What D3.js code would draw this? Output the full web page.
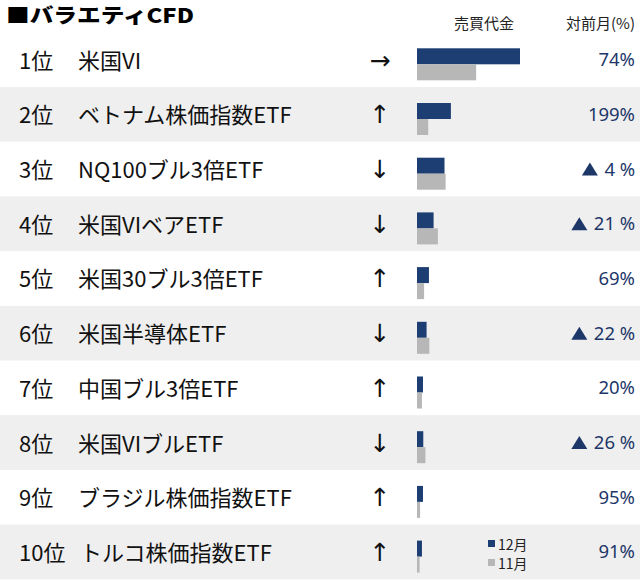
<!DOCTYPE html>
<html>
<head>
<meta charset="utf-8">
<script src="https://cdn.jsdelivr.net/npm/d3@7"></script>
<style>
  html, body { margin: 0; padding: 0; background: #fff; }
  svg { display: block; }
</style>
</head>
<body>
<svg id="chart" width="640" height="580"></svg>
<script>
const title = "■バラエティCFD";
const colHeaders = ["売買代金", "対前月(%)"];
const ranks = ["1位","2位","3位","4位","5位","6位","7位","8位","9位","10位"];
const names = ["米国VI","ベトナム株価指数ETF","NQ100ブル3倍ETF","米国VIベアETF","米国30ブル3倍ETF","米国半導体ETF","中国ブル3倍ETF","米国VIブルETF","ブラジル株価指数ETF","トルコ株価指数ETF"];
const trends = ["→","↑","↓","↓","↑","↓","↑","↓","↑","↑"];
// 売買代金 (relative index, 12月 top = 100)
const dec = [100, 32.9, 26.7, 16.1, 11.6, 9.3, 5.8, 6.1, 5.8, 4.8];
const nov = [57.4, 10.9, 27.8, 20.3, 6.9, 12.0, 4.8, 8.2, 3.0, 2.5];
// 対前月 (%) ; negative shown with ▲
const changes = [74, 199, -4, -21, 69, -22, 20, -26, 95, 91];
const legendLabels = ["12月", "11月"];

const BLUE = "#1d3e72", GRAY = "#b7b7b7", BAND = "#efefef", NAVY = "#1d3769";
const JP = "'Noto Sans CJK JP', 'Noto Sans', sans-serif";

const svg = d3.select("#chart");

const y = d3.scaleBand().domain(d3.range(ranks.length)).range([32.3, 579.3]).padding(0);
const x = d3.scaleLinear().domain([0, 100]).range([417, 520]);

// row bands
svg.selectAll("rect.band").data(d3.range(ranks.length).filter(i => i % 2 === 1))
  .join("rect").attr("class", "band")
  .attr("x", 0).attr("width", 640)
  .attr("y", i => y(i)).attr("height", y.bandwidth())
  .attr("fill", BAND);

// title (horizontally widened to match the reference's wide bold face)
const titleText = svg.append("text").attr("x", 0).attr("y", 0)
  .attr("font-family", JP).attr("font-weight", 900).attr("font-size", 20)
  .attr("fill", "#000").text(title);
const tw = titleText.node().getComputedTextLength();
titleText.attr("transform", `translate(6,23) scale(${188 / tw},1)`);

// column headers
svg.append("text").attr("x", 484).attr("y", 28.5).attr("text-anchor", "middle")
  .attr("font-family", JP).attr("font-size", 15).attr("fill", "#222").text(colHeaders[0]);
svg.append("text").attr("x", 635).attr("y", 28.5).attr("text-anchor", "end")
  .attr("font-family", JP).attr("font-size", 15).attr("fill", "#222").text(colHeaders[1]);

const rows = svg.selectAll("g.row").data(d3.range(ranks.length)).join("g").attr("class", "row");
const cy = i => y(i) + y.bandwidth() / 2;

rows.append("text").attr("x", 19).attr("y", i => cy(i) + 9)
  .attr("font-family", JP).attr("font-size", 22).attr("fill", "#111").text(i => ranks[i]);
rows.append("text").attr("x", i => i === 9 ? 80 : 78).attr("y", i => cy(i) + 9)
  .attr("font-family", JP).attr("font-size", 22).attr("fill", "#111").text(i => names[i]);
rows.append("text").attr("x", 380).attr("y", i => cy(i) + 9).attr("text-anchor", "middle")
  .attr("font-family", "'DejaVu Sans', sans-serif").attr("font-size", 25).attr("fill", "#111").text(i => trends[i]);

// bars
rows.append("rect").attr("x", x(0)).attr("y", i => y(i) + 16)
  .attr("width", i => x(dec[i]) - x(0)).attr("height", 16).attr("fill", BLUE);
rows.append("rect").attr("x", x(0)).attr("y", i => y(i) + 32)
  .attr("width", i => x(nov[i]) - x(0)).attr("height", 16).attr("fill", GRAY);

// change %
const PF = "'Noto Sans', sans-serif";
rows.each(function(i) {
  const g = d3.select(this);
  const base = cy(i) + 6.5;
  const v = changes[i];
  if (v >= 0) {
    g.append("text").attr("x", 635).attr("y", base).attr("text-anchor", "end")
      .attr("font-family", PF).attr("font-size", 18.5).attr("fill", NAVY).text(v + "%");
  } else {
    g.append("text").attr("x", 635).attr("y", base).attr("text-anchor", "end")
      .attr("font-family", PF).attr("font-size", 18.5).attr("fill", NAVY).text("%");
    const num = g.append("text").attr("x", 615).attr("y", base).attr("text-anchor", "end")
      .attr("font-family", PF).attr("font-size", 18.5).attr("fill", NAVY).text(Math.abs(v));
    const w = num.node().getComputedTextLength();
    const right = 615 - w - 6.5;
    const c = cy(i);
    g.append("path")
      .attr("d", `M${right - 16},${c + 6.5} L${right},${c + 6.5} L${right - 8},${c - 6.5} Z`)
      .attr("fill", NAVY);
  }
});

// legend
const legColors = [BLUE, GRAY];
const legY = [540, 559];
legendLabels.forEach((lab, k) => {
  svg.append("rect").attr("x", 488).attr("y", legY[k]).attr("width", 7).attr("height", 7).attr("fill", legColors[k]);
  svg.append("text").attr("x", 498).attr("y", legY[k] + 9.5)
    .attr("font-family", JP).attr("font-size", 14).attr("fill", "#222").text(lab);
});
</script>
</body>
</html>
